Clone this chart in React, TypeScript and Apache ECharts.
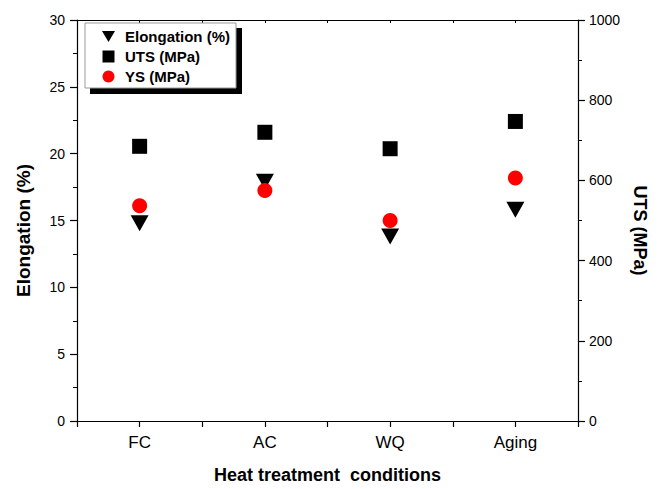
import React, { useEffect, useRef } from "react";
import * as echarts from "echarts";

const categories = ["FC", "AC", "WQ", "Aging"];
const elongation = [14.8, 17.9, 13.8, 15.8];
const uts = [685, 720, 679, 747];
const ys = [537, 575, 500, 606];
const leftTicks = { min: 0, max: 30, interval: 5 };
const rightTicks = { min: 0, max: 1000, interval: 200 };

const FONT = '"Liberation Sans", Arial, sans-serif';

export default function App() {
  const ref = useRef<HTMLDivElement>(null);
  useEffect(() => {
    if (!ref.current) return;
    const chart = echarts.init(ref.current, undefined, { renderer: "svg" });
    const axisLine = { show: true, onZero: false, lineStyle: { color: "#000", width: 1.2 } };
    chart.setOption({
      animation: false,
      backgroundColor: "#fff",
      textStyle: { fontFamily: FONT },
      grid: { left: 77, top: 20, width: 501, height: 403, containLabel: false },
      graphic: [
        { type: "rect", z: 1, shape: { x: 90, y: 28, width: 152, height: 66 }, style: { fill: "#000" } },
        { type: "rect", z: 2, shape: { x: 85, y: 23, width: 151, height: 65 }, style: { fill: "#fff", stroke: "#999", lineWidth: 1 } },
      ],
      legend: {
        z: 10,
        orient: "vertical",
        left: 97,
        top: 24,
        itemWidth: 13,
        itemHeight: 12,
        itemGap: 5,
        textStyle: { fontFamily: FONT, fontSize: 15, fontWeight: "bold", color: "#000", padding: [0, 0, 0, 5] },
        data: [
          { name: "Elongation (%)", icon: "path://M0,0 L14,0 L7,12 Z" },
          { name: "UTS (MPa)", icon: "path://M0,0 L10,0 L10,10 L0,10 Z" },
          { name: "YS (MPa)", icon: "circle" },
        ],
      },
      xAxis: [
        {
          type: "category",
          data: categories,
          position: "bottom",
          axisLine,
          axisTick: { show: false },
          axisLabel: { fontSize: 17, color: "#000", margin: 13, fontFamily: FONT },
          splitLine: { show: false },
          name: "Heat treatment  conditions",
          nameLocation: "middle",
          nameGap: 45,
          nameTextStyle: { fontSize: 18, fontWeight: "bold", color: "#000", fontFamily: FONT },
        },
        {
          type: "value",
          min: 0,
          max: 4,
          interval: 0.5,
          position: "bottom",
          axisLine: { show: false, onZero: false },
          axisTick: { show: true, length: 6, lineStyle: { color: "#000", width: 1.2 } },
          axisLabel: { show: false },
          splitLine: { show: false },
        },
        {
          type: "value",
          min: 0,
          max: 4,
          interval: 0.5,
          position: "top",
          axisLine,
          axisTick: { show: true, inside: true, length: 3, lineStyle: { color: "#000", width: 1 } },
          axisLabel: { show: false },
          splitLine: { show: false },
        },
      ],
      yAxis: [
        {
          type: "value",
          position: "left",
          ...leftTicks,
          axisLine,
          axisTick: { show: true, length: 7, lineStyle: { color: "#000", width: 1.2 } },
          minorTick: { show: true, splitNumber: 2, length: 4, lineStyle: { color: "#000", width: 1 } },
          axisLabel: { fontSize: 14, color: "#000", margin: 12, fontFamily: FONT },
          splitLine: { show: false },
          name: "Elongation (%)",
          nameLocation: "middle",
          nameGap: 44,
          nameTextStyle: { fontSize: 19, fontWeight: "bold", color: "#000", fontFamily: FONT, padding: [0, 20, 0, 0] },
        },
        {
          type: "value",
          position: "right",
          ...rightTicks,
          axisLine,
          axisTick: { show: true, length: 7, lineStyle: { color: "#000", width: 1.2 } },
          minorTick: { show: true, splitNumber: 2, length: 4, lineStyle: { color: "#000", width: 1 } },
          axisLabel: { fontSize: 14, color: "#000", margin: 11, fontFamily: FONT, formatter: (v: number) => String(v) },
          splitLine: { show: false },
          name: "UTS (MPa)",
          nameLocation: "middle",
          nameRotate: -90,
          nameGap: 53,
          nameTextStyle: { fontSize: 18, fontWeight: "bold", color: "#000", fontFamily: FONT, padding: [0, 0, 0, 20] },
        },
      ],
      series: [
        {
          name: "Elongation (%)",
          type: "scatter",
          xAxisIndex: 0,
          yAxisIndex: 0,
          symbol: "triangle",
          symbolRotate: 180,
          symbolSize: [18, 16],
          itemStyle: { color: "#000", opacity: 1 },
          data: elongation,
          z: 3,
        },
        {
          name: "UTS (MPa)",
          type: "scatter",
          xAxisIndex: 0,
          yAxisIndex: 1,
          symbol: "rect",
          symbolSize: 15,
          itemStyle: { color: "#000", opacity: 1 },
          data: uts,
          z: 3,
        },
        {
          name: "YS (MPa)",
          type: "scatter",
          xAxisIndex: 0,
          yAxisIndex: 1,
          symbol: "circle",
          symbolSize: 15,
          itemStyle: { color: "#ff0000", opacity: 1 },
          data: ys,
          z: 4,
        },
      ],
    });
    return () => chart.dispose();
  }, []);
  return <div ref={ref} style={{ position: "fixed", left: 0, top: 0, width: 661, height: 489 }} />;
}
